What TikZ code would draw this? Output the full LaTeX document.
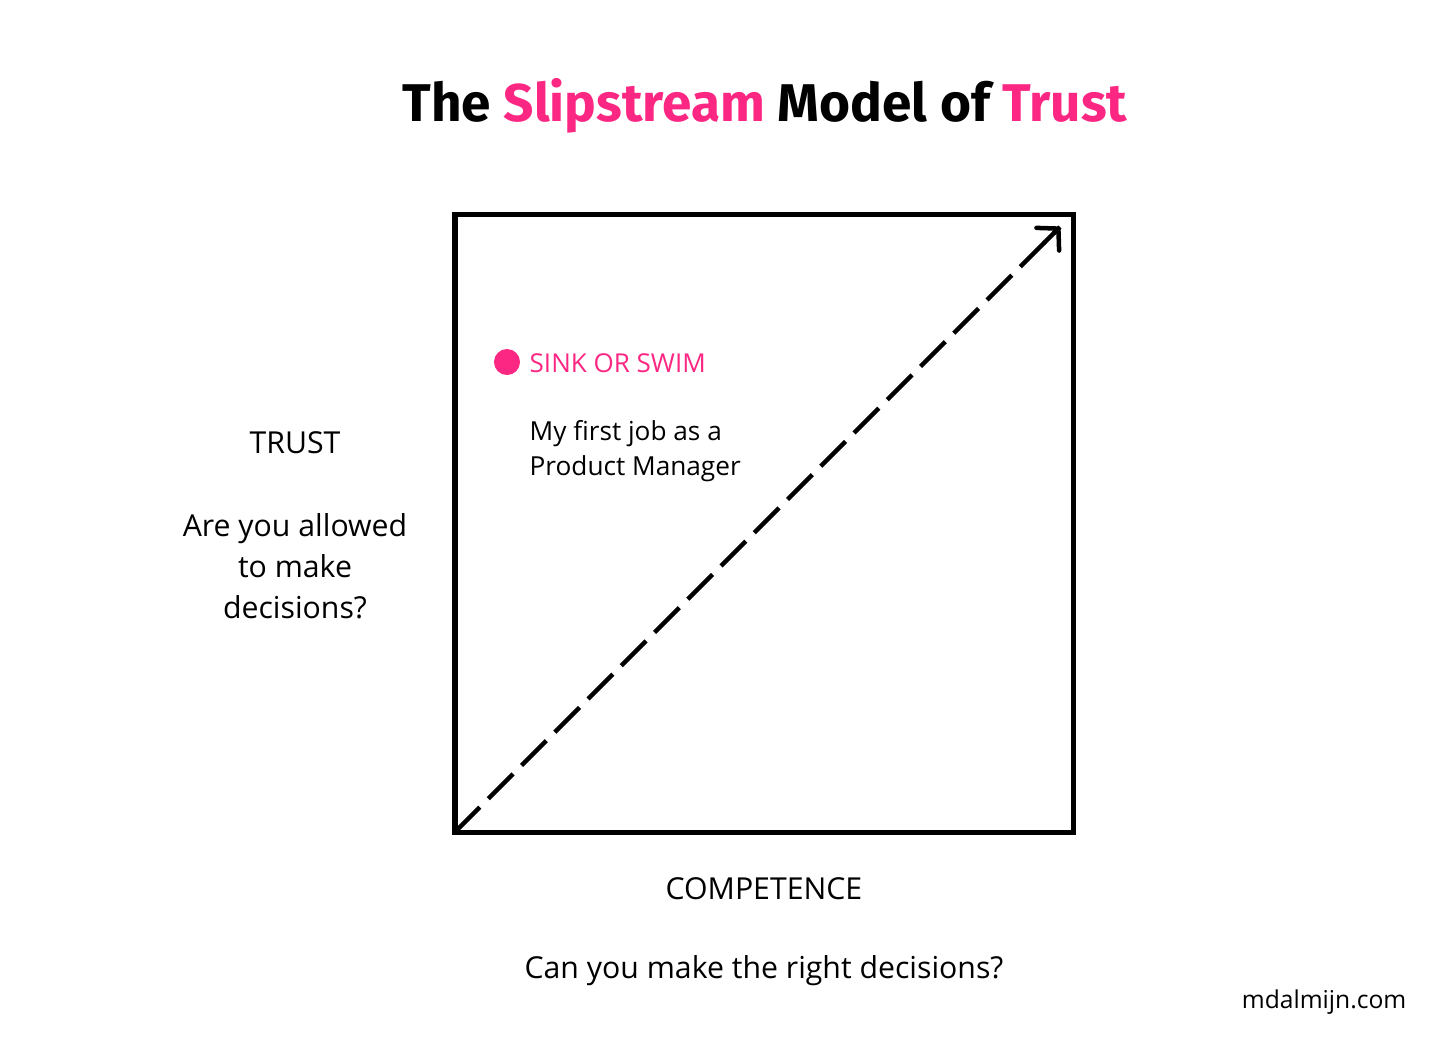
\documentclass[tikz,border=0pt]{standalone}
\usepackage{fontspec}
\setmainfont{Open Sans}
\newfontfamily\titlefont{Fira Sans}
\usetikzlibrary{arrows.meta}
\definecolor{slippink}{HTML}{FC2783}
\def\pink{\color{slippink}}
\def\fsz#1#2{\fontsize{#1}{#2}\selectfont}
\tikzset{lbl/.style={font=\fsz{8.6}{11.7},align=center,inner sep=0pt}}

\begin{document}
\begin{tikzpicture}[x=0.01cm,y=-0.01cm]
    \useasboundingbox (0,0) rectangle (1456,1048);
    \node[font=\titlefont\bfseries\fsz{15.1}{18}] (title) at (765,106)
        {The {\pink Slipstream} Model of {\pink Trust}};
    % the square and the diagonal
    \draw[line width=0.05cm] (455,214) rectangle (1073,832);
    \coordinate (origin) at (455,832);
    \coordinate (top) at (1060,227);
    \draw[line width=0.045cm, dash pattern=on 0.35cm off 0.12cm] (origin) -- (top);
    \draw[line width=0.045cm, -{Straight Barb[round,length=0.15cm,width=0.32cm]}] (top) ++(-16,16) -- (top);
    % the one point on it
    \node[circle,fill=slippink,minimum size=0.26cm,inner sep=0pt] (dot) at (507,362) {};
    \node[lbl,font=\fsz{7.4}{10},text=slippink,anchor=base west] (sink) at (529,372) {SINK OR SWIM};
    \node[lbl,font=\fsz{7.45}{10},align=left,anchor=west] (job) at (529,451) {My first job as a\\Product Manager};
    % axes
    \node[lbl] (trust) at (295,443) {TRUST};
    \node[lbl] (trustq) at (295,566) {Are you allowed\\to make\\decisions?};
    \node[lbl] (comp) at (764,889) {COMPETENCE};
    \node[lbl] (compq) at (764,971) {Can you make the right decisions?};
    \node[lbl,font=\fsz{7}{9},anchor=east] (site) at (1407,1002) {mdalmijn.com};
\end{tikzpicture}
\end{document}
